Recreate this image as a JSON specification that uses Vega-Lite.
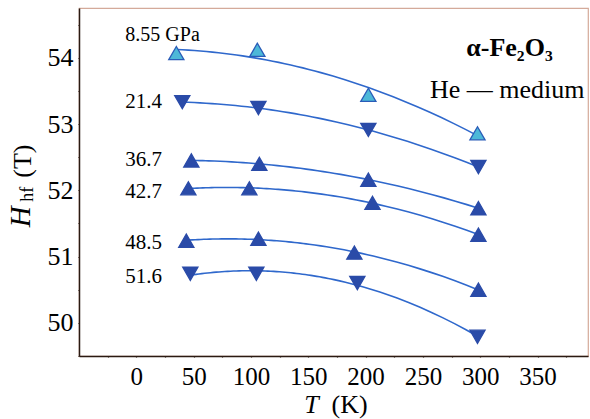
{
  "$schema": "https://vega.github.io/schema/vega-lite/v6.json",
  "width": 509,
  "height": 348,
  "autosize": {"type": "none"},
  "padding": {"left": 79, "top": 8, "right": 2, "bottom": 63},
  "background": "white",
  "config": {
    "view": {"stroke": "#d4aa9a", "strokeWidth": 1.2},
    "font": "Liberation Serif",
    "text": {"font": "Liberation Serif", "color": "black"}
  },
  "datasets": {
    "pts": [
      {"series": "8.55 GPa", "dir": "up", "T": 34.9, "H": 54.07},
      {"series": "8.55 GPa", "dir": "up", "T": 105.6, "H": 54.12},
      {"series": "8.55 GPa", "dir": "up", "T": 202.4, "H": 53.44},
      {"series": "8.55 GPa", "dir": "up", "T": 297.6, "H": 52.86},
      {"series": "21.4", "dir": "down", "T": 40.1, "H": 53.33},
      {"series": "21.4", "dir": "down", "T": 106.5, "H": 53.24},
      {"series": "21.4", "dir": "down", "T": 202.4, "H": 52.91},
      {"series": "21.4", "dir": "down", "T": 298.4, "H": 52.35},
      {"series": "36.7", "dir": "up", "T": 48.0, "H": 52.45},
      {"series": "36.7", "dir": "up", "T": 107.3, "H": 52.40},
      {"series": "36.7", "dir": "up", "T": 202.4, "H": 52.16},
      {"series": "36.7", "dir": "up", "T": 298.4, "H": 51.73},
      {"series": "42.7", "dir": "up", "T": 45.4, "H": 52.03},
      {"series": "42.7", "dir": "up", "T": 98.6, "H": 52.03},
      {"series": "42.7", "dir": "up", "T": 206.0, "H": 51.81},
      {"series": "42.7", "dir": "up", "T": 298.4, "H": 51.33},
      {"series": "48.5", "dir": "up", "T": 43.6, "H": 51.24},
      {"series": "48.5", "dir": "up", "T": 106.5, "H": 51.27},
      {"series": "48.5", "dir": "up", "T": 190.2, "H": 51.06},
      {"series": "48.5", "dir": "up", "T": 298.4, "H": 50.50},
      {"series": "51.6", "dir": "down", "T": 47.1, "H": 50.74},
      {"series": "51.6", "dir": "down", "T": 104.7, "H": 50.74},
      {"series": "51.6", "dir": "down", "T": 192.8, "H": 50.60},
      {"series": "51.6", "dir": "down", "T": 297.6, "H": 49.79}
    ]
  },
  "encoding": {
    "x": {
      "type": "quantitative",
      "scale": {"domain": [-50, 394], "nice": false, "zero": false},
      "axis": {
        "title": null,
        "grid": false,
        "values": [-25, 0, 25, 50, 75, 100, 125, 150, 175, 200, 225, 250, 275, 300, 325, 350, 375],
        "labelExpr": "datum.value % 50 === 0 ? format(datum.value, 'd') : ''",
        "labelFont": "Liberation Serif",
        "labelFontSize": 25,
        "labelColor": "black",
        "labelPadding": 7,
        "domainColor": "#2a1a12",
        "domainWidth": 1.5,
        "tickColor": "#2a1a12",
        "tickWidth": 1.2,
        "tickSize": 1,
        "encode": {
          "ticks": {"update": {"y2": {"signal": "datum.value % 50 === 0 ? -6 : -3"}}}
        }
      }
    },
    "y": {
      "type": "quantitative",
      "scale": {"domain": [49.5, 54.75], "nice": false, "zero": false},
      "axis": {
        "title": null,
        "grid": false,
        "values": [49.5, 50, 50.5, 51, 51.5, 52, 52.5, 53, 53.5, 54, 54.5],
        "labelExpr": "datum.value % 1 === 0 ? format(datum.value, 'd') : ''",
        "labelFont": "Liberation Serif",
        "labelFontSize": 26,
        "labelColor": "black",
        "labelPadding": 5,
        "domainColor": "#2a1a12",
        "domainWidth": 1.5,
        "tickColor": "#2a1a12",
        "tickWidth": 1.2,
        "tickSize": 1,
        "encode": {
          "ticks": {"update": {"x2": {"signal": "datum.value % 1 === 0 ? 6 : 3"}}}
        }
      }
    }
  },
  "layer": [
    {
      "data": {"name": "pts"},
      "transform": [
        {"regression": "H", "on": "T", "groupby": ["series"], "method": "poly", "order": 2}
      ],
      "mark": {"type": "line", "color": "#2f68cc", "strokeWidth": 1.6},
      "encoding": {
        "x": {"field": "T", "type": "quantitative"},
        "y": {"field": "H", "type": "quantitative"},
        "detail": {"field": "series"}
      }
    },
    {
      "data": {"name": "pts"},
      "mark": {"type": "point", "filled": true, "size": 230, "opacity": 1, "strokeWidth": 1.3},
      "encoding": {
        "x": {"field": "T", "type": "quantitative"},
        "y": {"field": "H", "type": "quantitative"},
        "shape": {"field": "dir", "type": "nominal", "scale": {"domain": ["up", "down"], "range": ["triangle-up", "triangle-down"]}, "legend": null},
        "fill": {"condition": {"test": "datum.series === '8.55 GPa'", "value": "#4db8d8"}, "value": "#2a4ba8"},
        "stroke": {"condition": {"test": "datum.series === '8.55 GPa'", "value": "#2a5cb8"}, "value": "#2a4ba8"}
      }
    },
    {"data": {"values": [{}]}, "mark": {"type": "text", "font": "Liberation Serif", "align": "left", "baseline": "middle", "fontSize": 20}, "encoding": {"x": {"datum": -9.6}, "y": {"datum": 54.34}, "text": {"value": "8.55 GPa"}}},
    {"data": {"values": [{}]}, "mark": {"type": "text", "font": "Liberation Serif", "align": "left", "baseline": "middle", "fontSize": 21}, "encoding": {"x": {"datum": -9.6}, "y": {"datum": 53.33}, "text": {"value": "21.4"}}},
    {"data": {"values": [{}]}, "mark": {"type": "text", "font": "Liberation Serif", "align": "left", "baseline": "middle", "fontSize": 21}, "encoding": {"x": {"datum": -9.6}, "y": {"datum": 52.46}, "text": {"value": "36.7"}}},
    {"data": {"values": [{}]}, "mark": {"type": "text", "font": "Liberation Serif", "align": "left", "baseline": "middle", "fontSize": 21}, "encoding": {"x": {"datum": -9.6}, "y": {"datum": 51.97}, "text": {"value": "42.7"}}},
    {"data": {"values": [{}]}, "mark": {"type": "text", "font": "Liberation Serif", "align": "left", "baseline": "middle", "fontSize": 21}, "encoding": {"x": {"datum": -9.6}, "y": {"datum": 51.20}, "text": {"value": "48.5"}}},
    {"data": {"values": [{}]}, "mark": {"type": "text", "font": "Liberation Serif", "align": "left", "baseline": "middle", "fontSize": 21}, "encoding": {"x": {"datum": -9.6}, "y": {"datum": 50.69}, "text": {"value": "51.6"}}},
    {"data": {"values": [{}]}, "mark": {"type": "text", "font": "Liberation Serif", "align": "center", "baseline": "middle", "fontSize": 26, "fontWeight": "bold"}, "encoding": {"x": {"datum": 325.5}, "y": {"datum": 54.15}, "text": {"value": "α-Fe₂O₃"}}},
    {"data": {"values": [{}]}, "mark": {"type": "text", "font": "Liberation Serif", "align": "center", "baseline": "middle", "fontSize": 26}, "encoding": {"x": {"datum": 323.5}, "y": {"datum": 53.51}, "text": {"value": "He — medium"}}},
    {"data": {"values": [{}]}, "mark": {"type": "text", "font": "Liberation Serif", "align": "center", "baseline": "middle", "fontSize": 26, "fontStyle": "italic"}, "encoding": {"x": {"datum": 152.7}, "y": {"datum": 48.76}, "text": {"value": "T"}}},
    {"data": {"values": [{}]}, "mark": {"type": "text", "font": "Liberation Serif", "align": "center", "baseline": "middle", "fontSize": 26}, "encoding": {"x": {"datum": 186}, "y": {"datum": 48.76}, "text": {"value": "(K)"}}},
    {"data": {"values": [{}]}, "mark": {"type": "text", "font": "Liberation Serif", "align": "center", "baseline": "middle", "fontSize": 29, "fontStyle": "italic", "angle": 270}, "encoding": {"x": {"datum": -100.3}, "y": {"datum": 51.60}, "text": {"value": "H"}}},
    {"data": {"values": [{}]}, "mark": {"type": "text", "font": "Liberation Serif", "align": "center", "baseline": "middle", "fontSize": 18, "angle": 270}, "encoding": {"x": {"datum": -94.2}, "y": {"datum": 51.94}, "text": {"value": "hf"}}},
    {"data": {"values": [{}]}, "mark": {"type": "text", "font": "Liberation Serif", "align": "center", "baseline": "middle", "fontSize": 26, "angle": 270}, "encoding": {"x": {"datum": -98.6}, "y": {"datum": 52.44}, "text": {"value": "(T)"}}}
  ]
}
